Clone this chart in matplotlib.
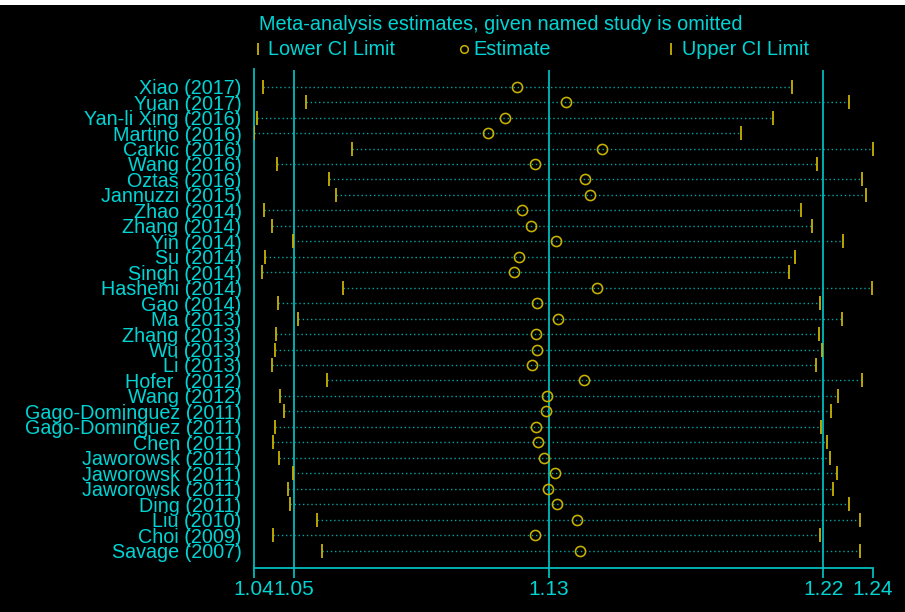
import matplotlib.pyplot as plt
from matplotlib.lines import Line2D
from matplotlib.patches import Rectangle
from matplotlib.ticker import FixedLocator, FormatStrFormatter

# --- DATA (odds ratios, one study omitted at a time) ---
estudos = ['Xiao (2017)', 'Yuan (2017)', 'Yan-li Xing (2016)', 'Martino (2016)', 'Carkic (2016)',
           'Wang (2016)', 'Oztas (2016)', 'Jannuzzi (2015)', 'Zhao (2014)', 'Zhang (2014)',
           'Yin (2014)', 'Su (2014)', 'Singh (2014)', 'Hashemi (2014)', 'Gao (2014)',
           'Ma (2013)', 'Zhang (2013)', 'Wu (2013)', 'Li (2013)', 'Hofer  (2012)',
           'Wang (2012)', 'Gago-Dominguez (2011)', 'Gago-Dominguez (2011)', 'Chen (2011)',
           'Jaworowsk (2011)', 'Jaworowsk (2011)', 'Jaworowsk (2011)', 'Ding (2011)',
           'Liu (2010)', 'Choi (2009)', 'Savage (2007)']

ic_inferior = [1.0401, 1.0539, 1.0381, 1.0372, 1.0687, 1.0446, 1.0612, 1.0636, 1.0405, 1.0429,
               1.0497, 1.0408, 1.0398, 1.0657, 1.0450, 1.0513, 1.0443, 1.0440, 1.0429, 1.0606,
               1.0456, 1.0467, 1.0440, 1.0433, 1.0453, 1.0497, 1.0481, 1.0487, 1.0574, 1.0433,
               1.0589]

estimativa = [1.1218, 1.1374, 1.1177, 1.1123, 1.1490, 1.1276, 1.1435, 1.1452, 1.1232, 1.1262,
              1.1343, 1.1224, 1.1208, 1.1473, 1.1282, 1.1349, 1.1279, 1.1282, 1.1265, 1.1432,
              1.1313, 1.1310, 1.1279, 1.1285, 1.1302, 1.1338, 1.1316, 1.1346, 1.1410, 1.1276,
              1.1418]

ic_superior = [1.2099, 1.2282, 1.2038, 1.1936, 1.2360, 1.2180, 1.2326, 1.2336, 1.2128, 1.2163,
               1.2264, 1.2108, 1.2089, 1.2356, 1.2189, 1.2261, 1.2186, 1.2197, 1.2177, 1.2326,
               1.2247, 1.2224, 1.2193, 1.2211, 1.2221, 1.2244, 1.2230, 1.2282, 1.2319, 1.2189,
               1.2319]

# estimativa combinada (todos os estudos)
geral_inf = 1.0500
geral_est = 1.1319
geral_sup = 1.2200

# --- CORES ---
fundo = 'black'
ciano = '#00D4D4'
linha_ciano = '#00BCBC'
pontilhado = '#00A4A4'
amarelo = '#C8B200'

plt.rcParams['font.family'] = ['Liberation Sans', 'DejaVu Sans']

fig = plt.figure(figsize=(9.05, 6.12), dpi=100, facecolor=fundo)
ax = fig.add_axes([254 / 905, 1 - 567.7 / 612, 619 / 905, (567.7 - 69.5) / 612])
ax.set_facecolor(fundo)

posicoes = list(range(1, len(estudos) + 1))

# linhas pontilhadas entre limites
for y, li, ls in zip(posicoes, ic_inferior, ic_superior):
    ax.plot([li, ls], [y, y], color=pontilhado, linewidth=1.0, linestyle=(0, (1, 2)), zorder=1)

# linhas verticais da estimativa combinada
for v in [geral_inf, geral_est, geral_sup]:
    ax.axvline(v, color=linha_ciano, linewidth=1.3, zorder=2)

ax.plot(ic_inferior, posicoes, linestyle='none', marker='|', markersize=10,
        markeredgewidth=1.3, color=amarelo, zorder=3)
ax.plot(ic_superior, posicoes, linestyle='none', marker='|', markersize=10,
        markeredgewidth=1.3, color=amarelo, zorder=3)
ax.plot(estimativa, posicoes, linestyle='none', marker='o', markersize=7.3,
        markerfacecolor='none', markeredgewidth=1.15, markeredgecolor=amarelo, zorder=4)

# eixos
xmin = min(ic_inferior)
xmax = max(ic_superior)
ax.set_xlim(xmin, xmax)
ax.set_ylim(len(estudos) + 1.11, -0.11)

ax.xaxis.set_major_locator(FixedLocator([xmin, geral_inf, geral_est, geral_sup, xmax]))
ax.xaxis.set_major_formatter(FormatStrFormatter('%.2f'))
ax.tick_params(axis='x', colors=linha_ciano, labelcolor=ciano, labelsize=15,
               length=7.3, width=1.3, direction='out', pad=1.5)

ax.set_yticks(posicoes)
ax.set_yticklabels(estudos)
ax.tick_params(axis='y', length=0, labelcolor=ciano, labelsize=14.2, pad=9)

for lado in ['top', 'right']:
    ax.spines[lado].set_visible(False)
for lado in ['left', 'bottom']:
    ax.spines[lado].set_color(linha_ciano)
    ax.spines[lado].set_linewidth(1.3)

# titulo e legenda
fig.text(259 / 905, 1 - 29.5 / 612, 'Meta-analysis estimates, given named study is omitted',
         color=ciano, fontsize=14.3, va='baseline', ha='left')

y_leg = 1 - 49 / 612
y_txt = 1 - 55 / 612
legenda = [(257.5, '|', 'Lower CI Limit', 11), (464, 'o', 'Estimate', 9),
           (671, '|', 'Upper CI Limit', 11)]
for xp, mk, rotulo, desloc in legenda:
    if mk == 'o':
        fig.add_artist(Line2D([xp / 905], [y_leg], transform=fig.transFigure, marker='o',
                              markersize=5.5, markerfacecolor='none', markeredgewidth=1.1,
                              markeredgecolor=amarelo, linestyle='none'))
    else:
        fig.add_artist(Line2D([xp / 905], [y_leg], transform=fig.transFigure, marker='|',
                              markersize=9, markeredgewidth=1.3, color=amarelo,
                              linestyle='none'))
    fig.text((xp + desloc) / 905, y_txt, rotulo, color=ciano, fontsize=14.3,
             va='baseline', ha='left')

# faixa branca no topo da captura
fig.patches.append(Rectangle((0, 1 - 5 / 612), 1, 5 / 612, transform=fig.transFigure,
                             facecolor='white', edgecolor='none', zorder=10))

plt.savefig('out.png', dpi=100, facecolor=fundo)
plt.close(fig)
